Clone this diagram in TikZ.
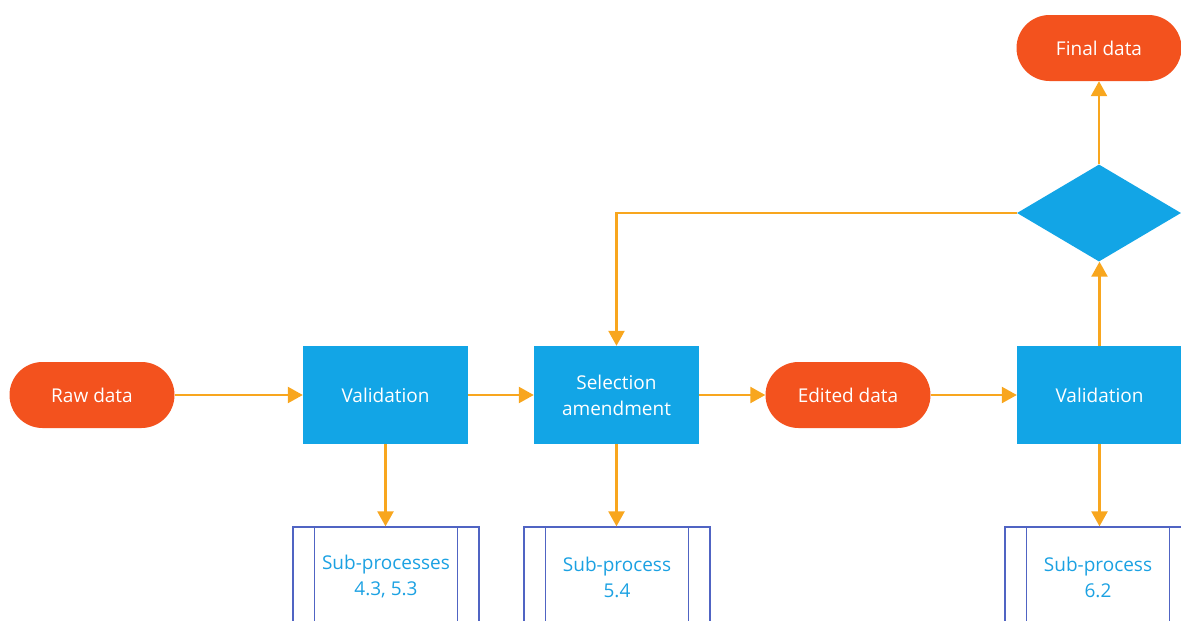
\documentclass[tikz,border=0pt]{standalone}
\usepackage{fontspec}
\setmainfont{Open Sans}
\usetikzlibrary{arrows.meta,shapes.geometric}
\definecolor{termC}{RGB}{243,82,30}
\definecolor{procC}{RGB}{18,165,230}
\definecolor{arrC}{RGB}{248,166,30}
\definecolor{subC}{RGB}{80,100,195}
\definecolor{subT}{RGB}{27,161,226}
\tikzset{
  lbl/.style={font=\fontsize{19}{26}\selectfont},
  term/.style={lbl,draw=none,fill=termC,rounded corners=33pt,minimum width=165pt,minimum height=66pt,text=white,inner sep=0pt},
  proc/.style={lbl,draw=none,fill=procC,minimum width=165pt,minimum height=98pt,text=white,align=center,inner sep=0pt},
  dec/.style={diamond,draw=none,fill=procC,minimum width=164pt,minimum height=97pt,inner sep=0pt,aspect=1.7},
  subbox/.style={lbl,draw=subC,line width=1.3pt,minimum width=186pt,minimum height=100pt,text=subT,align=center,inner sep=0pt},
  conn/.style={draw=arrC,line width=2.4pt,-{Triangle[width=16pt,length=15pt]}},
}
\begin{document}
\begin{tikzpicture}[x=1pt,y=-1pt]
\useasboundingbox (0,0) rectangle (1181,621);
\clip (0,0) rectangle (1181,621);
\node[term] (raw) at (92,395) {Raw data};
\node[proc] (val1) at (385.5,395) {Validation};
\node[proc] (sel) at (616.5,395) {Selection\\amendment};
\node[term] (edit) at (848,395) {Edited data};
\node[proc] (val2) at (1099.5,395) {Validation};
\node[dec] (dec) at (1099,213) {};
\node[term] (final) at (1099,48) {Final data};
\node[subbox] (sp1) at (386,577) {Sub-processes\\4.3, 5.3};
\node[subbox] (sp2) at (617,577) {Sub-process\\5.4};
\node[subbox] (sp3) at (1098,577) {Sub-process\\6.2};
\foreach \n in {sp1,sp2,sp3}{
  \draw[subC,line width=1.3pt] ([xshift=22pt]\n.north west) -- ([xshift=22pt]\n.south west);
  \draw[subC,line width=1.3pt] ([xshift=-22pt]\n.north east) -- ([xshift=-22pt]\n.south east);
}
\draw[conn] (raw) -- (val1);
\draw[conn] (val1) -- (sel);
\draw[conn] (sel) -- (edit);
\draw[conn] (edit) -- (val2);
\draw[conn] (val1.south) -- (val1.south |- sp1.north);
\draw[conn] (sel.south) -- (sel.south |- sp2.north);
\draw[conn] (val2.south) -- (val2.south |- sp3.north);
\draw[conn] (val2.north) -- (val2.north |- dec.south);
\draw[conn] (dec.north) -- (dec.north |- final.south);
\draw[conn] (dec.west) -| (sel.north);
\end{tikzpicture}
\end{document}
